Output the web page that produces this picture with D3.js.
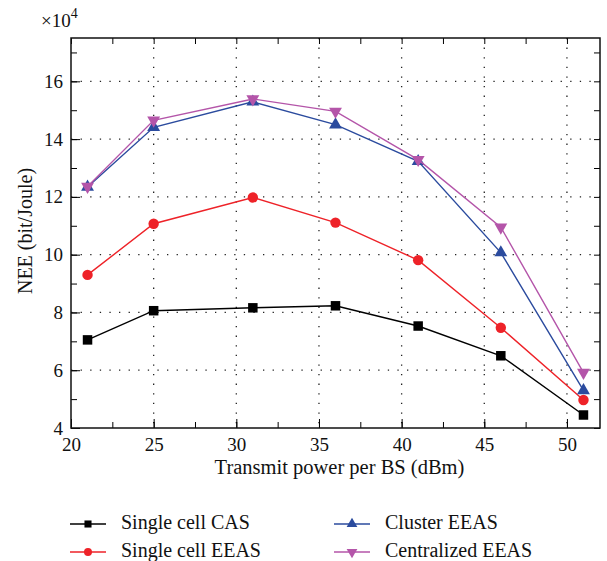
<!DOCTYPE html>
<html>
<head>
<meta charset="utf-8">
<script src="https://cdn.jsdelivr.net/npm/d3@7"></script>
<style>
  body { margin: 0; background: #fff; }
  svg text { font-family: "Liberation Serif", "DejaVu Serif", serif; fill: #111; }
</style>
</head>
<body>
<svg id="chart" width="607" height="561"></svg>
<script>
var powers = [21, 25, 31, 36, 41, 46, 51];
var casVals = [7.05, 8.06, 8.16, 8.23, 7.53, 6.5, 4.45];
var eeasVals = [9.3, 11.07, 11.98, 11.11, 9.81, 7.47, 4.97];
var clusterVals = [12.34, 14.41, 15.29, 14.5, 13.23, 10.07, 5.3];
var centralVals = [12.36, 14.65, 15.39, 14.96, 13.29, 10.95, 5.92];
var seriesNames = ["Single cell CAS", "Single cell EEAS", "Cluster EEAS", "Centralized EEAS"];
var xTicks = [20, 25, 30, 35, 40, 45, 50];
var yTicks = [4, 6, 8, 10, 12, 14, 16];

var series = [
  {name: seriesNames[0], vals: casVals, color: "#000000", sym: "square"},
  {name: seriesNames[1], vals: eeasVals, color: "#ee2228", sym: "circle"},
  {name: seriesNames[2], vals: clusterVals, color: "#2b4b9e", sym: "up"},
  {name: seriesNames[3], vals: centralVals, color: "#b455a9", sym: "down"}
];

var svg = d3.select("#chart");
var pLeft = 71, pRight = 600, pTop = 38, pBottom = 428;

var x = d3.scaleLinear().domain([20, 52]).range([pLeft, pRight]);
var y = d3.scaleLinear().domain([4, 17.5]).range([pBottom, pTop]);

// dotted grid
var grid = svg.append("g");
grid.selectAll(".gx").data(xTicks.filter(d => d > 20))
  .enter().append("line")
    .attr("x1", d => x(d)).attr("x2", d => x(d))
    .attr("y1", pTop).attr("y2", pBottom)
    .attr("stroke", "#222").attr("stroke-width", 1.3)
    .attr("stroke-dasharray", "1.3,8.3");
grid.selectAll(".gy").data(yTicks.filter(d => d > 4))
  .enter().append("line")
    .attr("y1", d => y(d)).attr("y2", d => y(d))
    .attr("x1", pLeft).attr("x2", pRight)
    .attr("stroke", "#222").attr("stroke-width", 1.3)
    .attr("stroke-dasharray", "1.3,8.3");

// axes with inward ticks
var xMinor = d3.range(20, 52.1, 2.5);
var yMinor = d3.range(4, 17.6, 1);
svg.append("g").attr("transform", "translate(0," + pBottom + ")")
  .call(d3.axisBottom(x).tickValues(xMinor).tickSize(-6).tickFormat(""))
  .call(g => g.select(".domain").remove());
svg.append("g").attr("transform", "translate(0," + pBottom + ")")
  .call(d3.axisBottom(x).tickValues(xTicks).tickSize(-9).tickPadding(10).tickFormat(d3.format("d")))
  .call(g => g.select(".domain").remove())
  .call(g => g.selectAll("text").attr("font-size", 19).attr("fill", "#111"));
svg.append("g").attr("transform", "translate(0," + pTop + ")")
  .call(d3.axisTop(x).tickValues(xMinor).tickSize(-6).tickFormat(""))
  .call(g => g.select(".domain").remove());
svg.append("g").attr("transform", "translate(" + pLeft + ",0)")
  .call(d3.axisLeft(y).tickValues(yMinor).tickSize(-6).tickFormat(""))
  .call(g => g.select(".domain").remove());
svg.append("g").attr("transform", "translate(" + pLeft + ",0)")
  .call(d3.axisLeft(y).tickValues(yTicks).tickSize(-9).tickPadding(8).tickFormat(d3.format("d")))
  .call(g => g.select(".domain").remove())
  .call(g => g.selectAll("text").attr("font-size", 19).attr("fill", "#111"));
svg.append("g").attr("transform", "translate(" + pRight + ",0)")
  .call(d3.axisRight(y).tickValues(yMinor).tickSize(-6).tickFormat(""))
  .call(g => g.select(".domain").remove());

svg.append("rect")
  .attr("x", pLeft).attr("y", pTop)
  .attr("width", pRight - pLeft).attr("height", pBottom - pTop)
  .attr("fill", "none").attr("stroke", "#111").attr("stroke-width", 1.5);

// lines and markers
var line = d3.line().x((d, i) => x(powers[i])).y(d => y(d));
var symbols = {
  square: d3.symbol().type(d3.symbolSquare).size(90),
  circle: d3.symbol().type(d3.symbolCircle).size(85),
  up: d3.symbol().type(d3.symbolTriangle).size(72),
  down: d3.symbol().type(d3.symbolTriangle).size(72)
};

series.forEach(s => {
  svg.append("path")
    .attr("d", line(s.vals))
    .attr("fill", "none")
    .attr("stroke", s.color)
    .attr("stroke-width", 1.4);
  svg.selectAll(null).data(s.vals).enter().append("path")
    .attr("d", symbols[s.sym]())
    .attr("transform", (d, i) => "translate(" + x(powers[i]) + "," + y(d) + ")" + (s.sym === "down" ? " rotate(180)" : ""))
    .attr("fill", s.color);
});

// labels
svg.append("text")
  .attr("x", 41).attr("y", 27)
  .attr("font-size", 19)
  .html('×10<tspan dy="-9" font-size="14">4</tspan>');

svg.append("text")
  .attr("transform", "translate(32," + ((pTop + pBottom) / 2 - 2) + ") rotate(-90)")
  .attr("text-anchor", "middle")
  .attr("font-size", 20)
  .text("NEE (bit/Joule)");

svg.append("text")
  .attr("x", (pLeft + pRight) / 2 + 4).attr("y", 474)
  .attr("text-anchor", "middle")
  .attr("font-size", 20.5)
  .text("Transmit power per BS (dBm)");

// legend
var legendPos = [[70, 524], [70, 552], [334, 524], [334, 552]];
series.forEach((s, i) => {
  var p = legendPos[i];
  var g = svg.append("g").attr("transform", "translate(" + p[0] + "," + p[1] + ")");
  g.append("line").attr("x1", 0).attr("x2", 36).attr("y1", 0).attr("y2", 0)
    .attr("stroke", s.color).attr("stroke-width", 1.4);
  g.append("path")
    .attr("d", d3.symbol().type(s.sym === "square" ? d3.symbolSquare : s.sym === "circle" ? d3.symbolCircle : d3.symbolTriangle).size(50)())
    .attr("transform", "translate(18,0)" + (s.sym === "down" ? " rotate(180)" : ""))
    .attr("fill", s.color);
  g.append("text").attr("x", 51).attr("y", 5)
    .attr("font-size", 20)
    .text(s.name);
});
</script>
</body>
</html>
